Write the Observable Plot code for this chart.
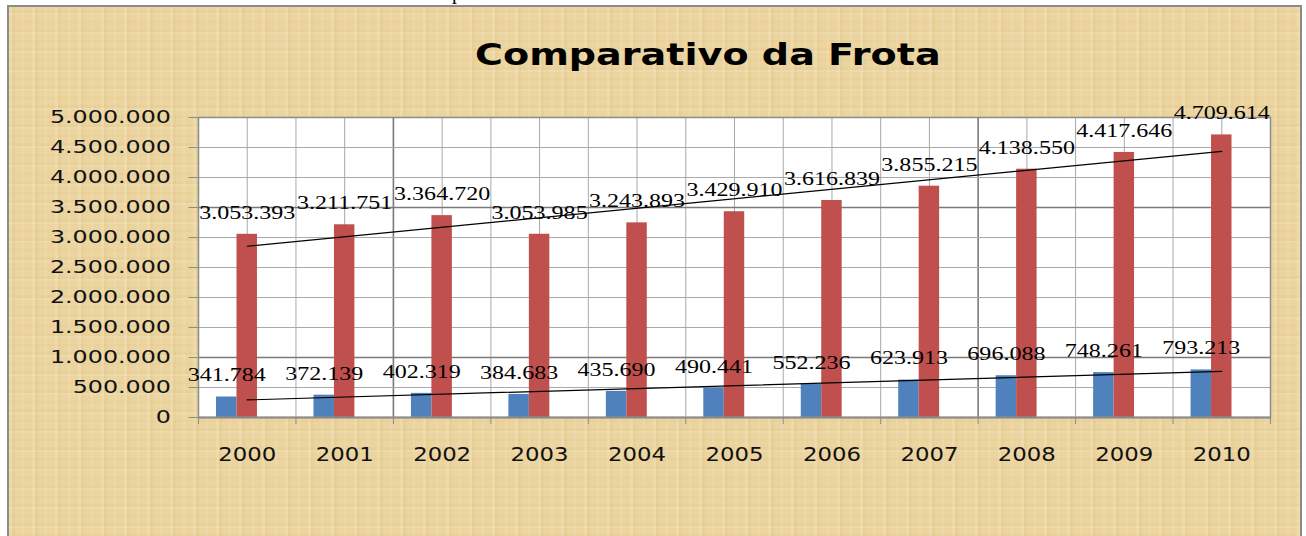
<!DOCTYPE html>
<html>
<head>
<meta charset="utf-8">
<script src="https://cdn.jsdelivr.net/npm/d3@7"></script>
<script src="https://cdn.jsdelivr.net/npm/@observablehq/plot@0.6"></script>
<style>
html, body { margin: 0; padding: 0; background: #fff; }
#page { position: relative; width: 1306px; height: 536px; overflow: hidden; background: #fff; }
#paper {
  position: absolute; left: 7px; top: 5px; width: 1295px; height: 580px;
  box-sizing: border-box; border: 2.5px solid #8b8b8b; border-bottom: none;
  background-color: #ebd49f;
  background-image:
    repeating-linear-gradient(90deg, rgba(255,248,225,0.16) 0 3px, rgba(190,150,70,0.07) 3px 6px, transparent 6px 13px, rgba(255,250,235,0.10) 13px 15px, transparent 15px 23px),
    repeating-linear-gradient(0deg, rgba(255,248,225,0.14) 0 2px, rgba(185,145,65,0.06) 2px 5px, transparent 5px 11px, rgba(200,160,80,0.06) 11px 13px, transparent 13px 19px);
}
#stray { position: absolute; left: 452px; top: -18px; font: 20px "Liberation Serif"; color: #000; line-height: 20px; }
#title { position: absolute; left: 475px; top: 40px; white-space: nowrap; }
#title span {
  display: inline-block; font-family: "DejaVu Sans"; font-weight: bold; font-size: 30px; line-height: 30px;
  color: #000; transform: scaleX(1.27); transform-origin: left center;
}
#chart { position: absolute; left: 0; top: 100px; }
</style>
</head>
<body>
<div id="page">
  <div id="paper"></div>
  <div id="stray">p</div>
  <div id="title"><span>Comparativo da Frota</span></div>
  <div id="chart"></div>
</div>
<script>
// ---- data ----
const years = [2000, 2001, 2002, 2003, 2004, 2005, 2006, 2007, 2008, 2009, 2010];
const frotaAzul = [341784, 372139, 402319, 384683, 435690, 490441, 552236, 623913, 696088, 748261, 793213];
const frotaVermelha = [3053393, 3211751, 3364720, 3053985, 3243893, 3429910, 3616839, 3855215, 4138550, 4417646, 4709614];
const yTicks = [0, 500000, 1000000, 1500000, 2000000, 2500000, 3000000, 3500000, 4000000, 4500000, 5000000];
const yDarkGrid = [1000000, 3500000];
const xDarkGrid = [2001.5, 2007.5];

const azul = years.map((year, i) => ({year, value: frotaAzul[i]}));
const vermelha = years.map((year, i) => ({year, value: frotaVermelha[i]}));

const fmt = v => d3.format(",")(v).replace(/,/g, ".");
const slot = 0.21;
const boundaries = years.map(y => y - 0.5).concat([years[years.length - 1] + 0.5]);
const halfLines = years.map(y => y).concat(boundaries);

const chart = Plot.plot({
  width: 1306,
  height: 436,
  marginLeft: 198,
  marginRight: 36,
  marginTop: 17,
  marginBottom: 119,
  style: {background: "transparent", overflow: "visible"},
  x: {domain: [years[0] - 0.5, years[years.length - 1] + 0.5], label: null},
  y: {domain: [0, yTicks[yTicks.length - 1]], label: null},
  marks: [
    Plot.frame({fill: "white", stroke: "none"}),
    Plot.ruleX(halfLines.filter(d => !xDarkGrid.includes(d)), {stroke: "#a9a9a9", strokeWidth: 1}),
    Plot.ruleX(xDarkGrid, {stroke: "#7a7a7a", strokeWidth: 1.6}),
    Plot.ruleY(yTicks.filter(d => !yDarkGrid.includes(d)), {stroke: "#a9a9a9", strokeWidth: 1}),
    Plot.ruleY(yDarkGrid, {stroke: "#7a7a7a", strokeWidth: 1.6}),
    Plot.rectY(azul, {x1: d => d.year - 1.5 * slot, x2: d => d.year - 0.5 * slot, y: "value", fill: "#4f81bd"}),
    Plot.rectY(vermelha, {x1: d => d.year - 0.5 * slot, x2: d => d.year + 0.5 * slot, y: "value", fill: "#c0504d"}),
    Plot.frame({stroke: "#8c8c8c", strokeWidth: 1.5}),
    Plot.ruleY([0], {stroke: "#8c8c8c", strokeWidth: 2}),
    Plot.axisY(yTicks, {tickSize: 9.5, tickPadding: 18, tickFormat: fmt, fontSize: 17, fontFamily: "DejaVu Sans",
      stroke: "#8c8c8c", fill: "#111", label: null}),
    Plot.axisX(boundaries, {tickSize: 7, tickFormat: () => "", stroke: "#8c8c8c", label: null}),
    Plot.axisX(years, {tickSize: 0, tickPadding: 30, tickFormat: d => String(d), fontSize: 19, fontFamily: "DejaVu Sans",
      fill: "#111", label: null}),
    Plot.linearRegressionY(azul, {x: "year", y: "value", stroke: "black", strokeWidth: 1.2, ci: 0}),
    Plot.linearRegressionY(vermelha, {x: "year", y: "value", stroke: "black", strokeWidth: 1.2, ci: 0}),
    Plot.text(azul, {x: d => d.year - slot, y: "value", text: d => fmt(d.value), dy: -21.5, lineAnchor: "middle",
      fontSize: 18.5, fontFamily: "Liberation Serif", fill: "black"}),
    Plot.text(vermelha, {x: "year", y: "value", text: d => fmt(d.value), dy: -21.5, lineAnchor: "middle",
      fontSize: 18.5, fontFamily: "Liberation Serif", fill: "black"})
  ]
});
document.getElementById("chart").appendChild(chart);

// widen the glyphs horizontally around each text's own anchor, as in the scanned original
function stretch(test, f, anchor) {
  chart.querySelectorAll("text").forEach(t => {
    const s = t.textContent;
    if (!s || !test(t)) return;
    const b = t.getBBox();
    if (!b.width) return;
    const ax = anchor === "end" ? b.x + b.width : b.x + b.width / 2;
    const prev = t.getAttribute("transform") || "";
    t.setAttribute("transform", `${prev} translate(${ax},0) scale(${f},1) translate(${-ax},0)`);
  });
}
stretch(t => t.closest('g[aria-label="y-axis tick label"]'), 1.4, "end");
stretch(t => t.closest('g[aria-label="x-axis tick label"]'), 1.2, "middle");
stretch(t => !t.closest('g[aria-label^="y-axis"]') && !t.closest('g[aria-label^="x-axis"]'), 1.3, "middle");
</script>
</body>
</html>
